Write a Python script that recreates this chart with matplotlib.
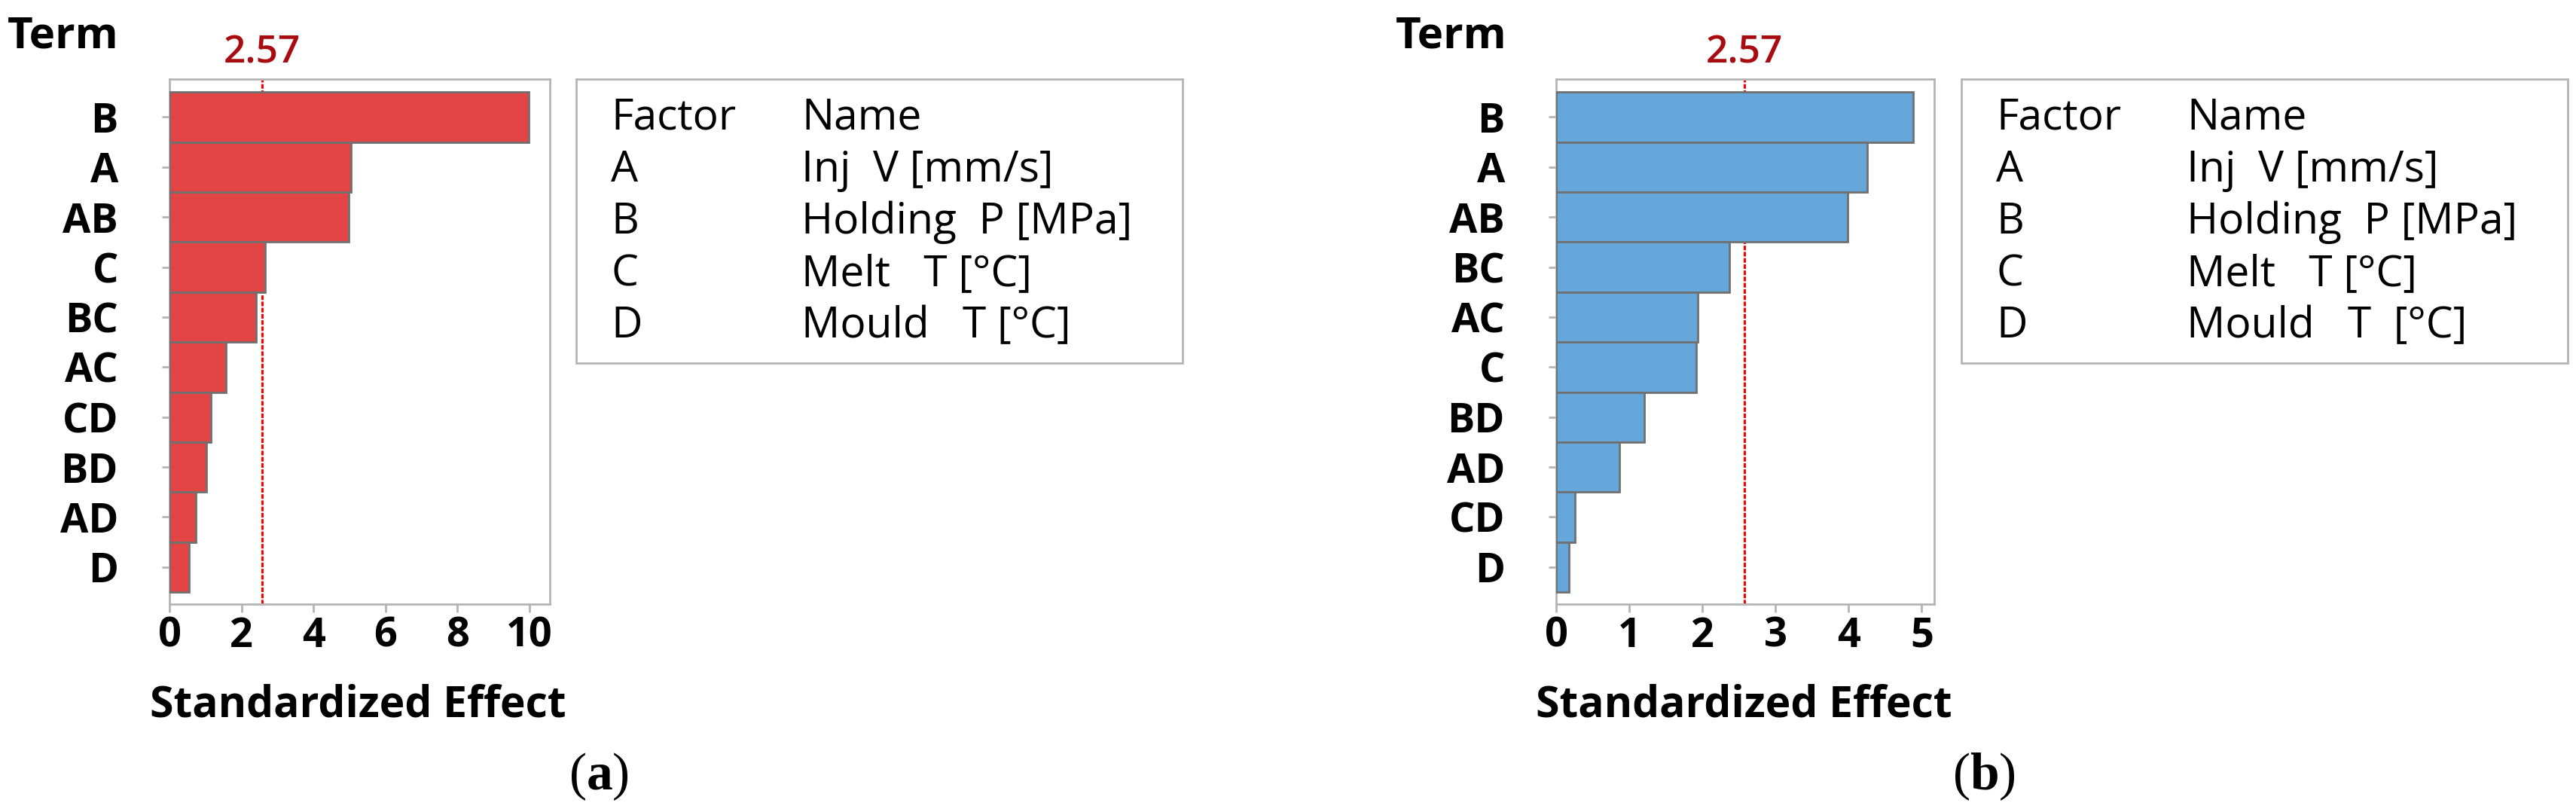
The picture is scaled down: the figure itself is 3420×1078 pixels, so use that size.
import matplotlib
matplotlib.use("Agg")
import matplotlib.pyplot as plt
from matplotlib.patches import Rectangle
from matplotlib.transforms import blended_transform_factory

# values (Minitab Pareto charts of standardized effects)
terms_a = ["B", "A", "AB", "C", "BC", "AC", "CD", "BD", "AD", "D"]
effects_a = [9.98, 5.04, 4.98, 2.65, 2.41, 1.58, 1.16, 1.03, 0.74, 0.54]
terms_b = ["B", "A", "AB", "BC", "AC", "C", "BD", "AD", "CD", "D"]
effects_b = [4.88, 4.25, 3.99, 2.37, 1.94, 1.92, 1.21, 0.86, 0.26, 0.17]
t_crit = 2.57
xticks_a = [0, 2, 4, 6, 8, 10]
xticks_b = [0, 1, 2, 3, 4, 5]
factors = ["A", "B", "C", "D"]
names_a = ["Inj  V [mm/s]", "Holding  P [MPa]", "Melt   T [°C]", "Mould   T [°C]"]
names_b = ["Inj  V [mm/s]", "Holding  P [MPa]", "Melt   T [°C]", "Mould   T  [°C]"]

W, H = 3420, 1078
FONT = "Open Sans"
GRAY = "#b4b4b4"
EDGE = "#707070"

plt.rcParams["mathtext.fontset"] = "custom"
plt.rcParams["mathtext.rm"] = "Liberation Serif"
plt.rcParams["mathtext.bf"] = "Liberation Serif:bold"

fig = plt.figure(figsize=(W / 100, H / 100), dpi=100)


def fx(x):
    return x / W


def fy(y):
    return 1 - y / H


def pareto(left, right, terms, effects, ticks, xmax, color, box_left, names, term_x, tag):
    top, bottom = 105, 802
    ax = fig.add_axes([fx(left), fy(bottom), fx(right - left), (bottom - top) / H])
    pos = list(range(len(terms)))
    ax.barh(pos, effects, height=1.0, color=color, edgecolor=EDGE, linewidth=2.0, zorder=3)
    ax.axvline(t_crit, color="#ff0000", linestyle=(0, (2.0, 0.7)), linewidth=2.2, zorder=2)
    ax.set_ylim(len(terms) - 0.26, -0.76)
    ax.set_xlim(0, xmax)
    ax.set_yticks(pos)
    ax.set_yticklabels(terms)
    ax.set_xticks(ticks)
    for s in ax.spines.values():
        s.set_color(GRAY)
        s.set_linewidth(2.0)
    ax.tick_params(axis="y", length=7, width=2, color=GRAY, pad=42)
    ax.tick_params(axis="x", length=8, width=2, color=GRAY, pad=3.5)
    for lab in ax.get_yticklabels() + ax.get_xticklabels():
        lab.set_fontfamily(FONT)
        lab.set_fontweight("bold")
        lab.set_fontsize(39)
    fig.text(fx((left + right) / 2 - 2), fy(952), "Standardized Effect", ha="center",
             va="baseline", fontfamily=FONT, fontweight="bold", fontsize=41)
    tr = blended_transform_factory(ax.transData, fig.transFigure)
    ax.text(t_crit, fy(84), "2.57", transform=tr, ha="center", va="baseline",
            color="#a80c10", fontfamily=FONT, fontweight="semibold", fontsize=37)
    fig.text(fx(term_x), fy(64), "Term", ha="left", va="baseline", fontfamily=FONT,
             fontweight="bold", fontsize=42)

    # factor / name box
    fig.patches.append(Rectangle((fx(box_left), fy(482)), fx(805), (482 - 105) / H,
                                 transform=fig.transFigure, fill=False,
                                 edgecolor=GRAY, linewidth=2.0))
    rows = ["Factor"] + factors
    cols = ["Name"] + names
    for i in range(len(rows)):
        y = 172 + i * 69
        fig.text(fx(box_left + 46), fy(y), rows[i], ha="left", va="baseline",
                 fontfamily=FONT, fontsize=41)
        fig.text(fx(box_left + 299), fy(y), cols[i], ha="left", va="baseline",
                 fontfamily=FONT, fontsize=41)

    fig.text(fx(box_left + 30), fy(1048), r"($\mathbf{%s}$)" % tag, ha="center",
             va="baseline", fontfamily="Liberation Serif", fontsize=50)
    return ax


pareto(225, 730, terms_a, effects_a, xticks_a, 10.57, "#e34444", 765, names_a, 10, "a")
pareto(2066, 2568, terms_b, effects_b, xticks_b, 5.17, "#66a7db", 2604, names_b, 1853, "b")

fig.savefig("out.png", dpi=100)
